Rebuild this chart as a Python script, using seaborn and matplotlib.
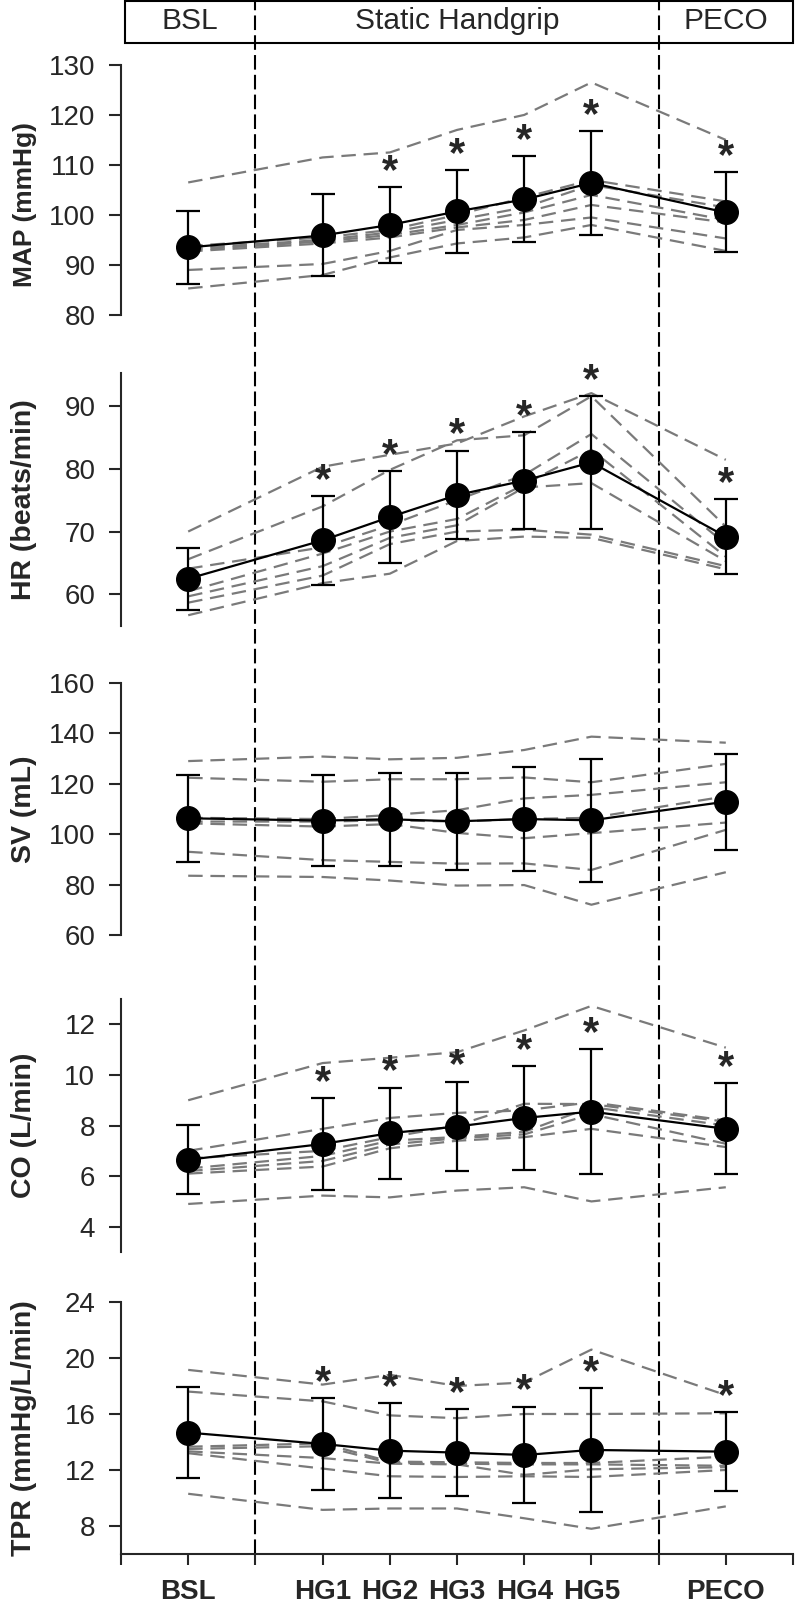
import matplotlib
matplotlib.use('Agg')
import matplotlib.pyplot as plt
from matplotlib.patches import Rectangle
import pandas as pd
import seaborn as sns

# time points of the protocol
time_labels = ['BSL', 'HG1', 'HG2', 'HG3', 'HG4', 'HG5', 'PECO']
time_pos = [1, 3, 4, 5, 6, 7, 9]
phase_labels = ['BSL', 'Static Handgrip', 'PECO']

# MAP (mmHg)
map_mean = [93.5, 95.9, 98.0, 100.7, 103.1, 106.4, 100.5]
map_sd = [7.3, 8.2, 7.6, 8.3, 8.6, 10.4, 8.0]
map_sig = [False, False, True, True, True, True, True]
map_subj = [
    [106.5, 111.5, 112.5, 117.0, 120.0, 126.5, 115.0],
    [93.8, 95.5, 97.0, 100.0, 103.5, 107.0, 102.7],
    [93.3, 95.0, 96.5, 99.0, 101.5, 106.0, 101.5],
    [93.0, 94.7, 96.0, 98.0, 100.5, 104.0, 99.0],
    [92.7, 94.3, 95.5, 97.5, 99.0, 102.0, 98.5],
    [89.0, 90.2, 92.8, 97.0, 98.0, 99.5, 95.3],
    [85.3, 88.0, 91.5, 94.3, 95.5, 98.0, 92.8],
]

# HR (beats/min)
hr_mean = [62.5, 68.6, 72.3, 75.8, 78.1, 81.0, 69.2]
hr_sd = [4.95, 7.05, 7.3, 7.05, 7.65, 10.55, 5.9]
hr_sig = [False, True, True, True, True, True, True]
hr_subj = [
    [70.0, 80.3, 82.2, 84.0, 88.3, 92.0, 81.4],
    [65.6, 74.0, 79.8, 84.5, 85.3, 91.5, 70.8],
    [64.1, 67.5, 71.0, 75.0, 79.0, 85.5, 68.0],
    [60.5, 66.5, 70.0, 72.0, 77.5, 83.0, 66.0],
    [59.7, 64.5, 69.0, 71.0, 77.0, 77.7, 65.3],
    [58.7, 63.0, 68.0, 70.0, 70.3, 69.5, 64.5],
    [56.7, 61.8, 63.3, 68.5, 69.2, 69.0, 64.0],
]

# SV (mL)
sv_mean = [106.3, 105.4, 105.9, 105.1, 106.0, 105.5, 112.9]
sv_sd = [17.2, 18.2, 18.4, 19.3, 20.7, 24.3, 19.0]
sv_sig = [False] * 7
sv_subj = [
    [129.0, 130.8, 129.7, 130.3, 133.4, 138.7, 136.3],
    [122.4, 120.8, 121.8, 121.8, 122.5, 120.6, 127.9],
    [106.5, 106.0, 107.6, 109.5, 114.2, 115.6, 120.6],
    [105.0, 105.0, 105.5, 105.0, 106.0, 106.5, 115.0],
    [104.3, 103.0, 104.0, 100.5, 98.4, 100.4, 104.6],
    [93.0, 89.7, 89.0, 88.3, 88.4, 85.8, 101.7],
    [83.5, 83.0, 81.6, 79.6, 79.8, 72.0, 84.9],
]

# CO (L/min)
co_mean = [6.65, 7.27, 7.70, 7.96, 8.30, 8.55, 7.87]
co_sd = [1.37, 1.80, 1.80, 1.77, 2.05, 2.48, 1.80]
co_sig = [False, True, True, True, True, True, True]
co_subj = [
    [9.0, 10.47, 10.68, 10.9, 11.76, 12.73, 11.08],
    [7.0, 7.87, 8.3, 8.5, 8.6, 8.92, 8.2],
    [6.7, 7.0, 7.54, 8.0, 8.86, 8.85, 8.15],
    [6.3, 6.8, 7.4, 7.55, 7.75, 8.73, 8.0],
    [6.2, 6.6, 7.25, 7.5, 7.65, 8.45, 7.28],
    [6.1, 6.38, 7.1, 7.4, 7.54, 7.87, 7.15],
    [4.9, 5.23, 5.16, 5.43, 5.56, 5.0, 5.56],
]

# TPR (mmHg/L/min)
tpr_mean = [14.67, 13.86, 13.38, 13.24, 13.07, 13.43, 13.31]
tpr_sd = [3.24, 3.27, 3.38, 3.10, 3.45, 4.40, 2.82]
tpr_sig = [False, True, True, True, True, True, True]
tpr_subj = [
    [19.15, 18.1, 18.8, 18.0, 18.25, 20.6, 17.35],
    [17.6, 16.9, 15.9, 15.7, 16.0, 16.0, 16.05],
    [13.66, 13.9, 12.6, 12.55, 12.5, 12.5, 12.95],
    [13.5, 13.7, 12.5, 12.45, 12.4, 12.4, 12.3],
    [13.33, 12.85, 12.45, 12.4, 11.65, 12.05, 12.2],
    [13.2, 12.1, 11.55, 11.5, 11.55, 11.5, 12.0],
    [10.3, 9.15, 9.25, 9.25, 8.55, 7.8, 9.4],
]

panels = [
    ('MAP (mmHg)', map_mean, map_sd, map_subj, map_sig, (80, 130), range(80, 131, 10)),
    ('HR (beats/min)', hr_mean, hr_sd, hr_subj, hr_sig, (55, 95.2), range(60, 91, 10)),
    ('SV (mL)', sv_mean, sv_sd, sv_subj, sv_sig, (60, 160), range(60, 161, 20)),
    ('CO (L/min)', co_mean, co_sd, co_subj, co_sig, (3, 13), range(4, 13, 2)),
    ('TPR (mmHg/L/min)', tpr_mean, tpr_sd, tpr_subj, tpr_sig, (6, 24), range(8, 25, 4)),
]
# axes rectangles in figure fraction (left, bottom, width, height)
rects = [
    [0.15125, 0.8040, 0.84, 0.1556],
    [0.15125, 0.6105, 0.84, 0.1574],
    [0.15125, 0.4182, 0.84, 0.1568],
    [0.15125, 0.2209, 0.84, 0.1574],
    [0.15125, 0.0330, 0.84, 0.1568],
]
label_y = [0.44, 0.5, 0.5, 0.5, 0.5]
label_size = [19, 20.5, 20.5, 20.5, 20.5]

sns.set_style('ticks')
plt.rcParams['font.family'] = ['Liberation Sans', 'DejaVu Sans']

fig = plt.figure(figsize=(8, 16.07), dpi=100)

# Background axes: phase dividers and the header box
bg = fig.add_axes([0.15125, 0.0330, 0.84, 0.967])
bg.set_xlim(0, 10)
bg.set_ylim(0, 1)
bg.axis('off')
for xd in (2, 8):
    bg.axvline(xd, color='black', lw=1.5, linestyle=(0, (7, 2.5)))
box_h = 43 / 1554
bg.add_patch(Rectangle((0.06, 1 - box_h), 9.94, box_h - 0.0006, fill=False,
                       ec='black', lw=1.5, clip_on=False))
for txt, xc in zip(phase_labels, [1.03, 5.0, 9.0]):
    bg.text(xc, 1 - box_h / 2, txt, ha='center', va='center', fontsize=21.5)

for i, (ylab, mean, sd, subj, sig, ylim, yticks) in enumerate(panels):
    ax = fig.add_axes(rects[i])
    ax.patch.set_visible(False)

    # individual subjects (grey dashed)
    long_df = pd.DataFrame([
        {'subject': s, 'x': x, 'value': v}
        for s, row in enumerate(subj) for x, v in zip(time_pos, row)
    ])
    sns.lineplot(data=long_df, x='x', y='value', units='subject', estimator=None,
                 color='#7a7a7a', lw=1.6, linestyle=(0, (6.5, 3.5)), legend=False, ax=ax)

    # group mean +/- SD
    ax.errorbar(time_pos, mean, yerr=sd, fmt='-o', color='black', ms=17, lw=1.6,
                elinewidth=1.6, capsize=8.5, capthick=1.6, zorder=5)

    # significance markers
    for x, m, s, flag in zip(time_pos, mean, sd, sig):
        if flag:
            ax.annotate('*', xy=(x, m + s), xytext=(0, 11), textcoords='offset points',
                        ha='center', va='center', fontsize=30, fontweight='bold')

    ax.set_xlim(0, 10)
    ax.set_ylim(*ylim)
    ax.set_yticks(list(yticks))
    ax.set_ylabel(ylab, fontsize=label_size[i], fontweight='bold')
    ax.yaxis.set_label_coords(-0.125, label_y[i])
    ax.set_xlabel('')
    ax.tick_params(axis='y', direction='out', length=8.5, width=1.5, labelsize=20, pad=10)
    sns.despine(ax=ax)
    ax.spines['left'].set_linewidth(1.5)

    if i < len(panels) - 1:
        ax.spines['bottom'].set_visible(False)
        ax.set_xticks([])
    else:
        ax.spines['bottom'].set_linewidth(1.5)
        tick_text = [''] * 11
        for p, lab in zip(time_pos, time_labels):
            tick_text[p] = lab
        ax.set_xticks(range(11))
        ax.set_xticklabels(tick_text, fontsize=20, fontweight='bold')
        ax.tick_params(axis='x', direction='out', length=8, width=1.5, pad=10)

fig.savefig('out.png', dpi=100)
